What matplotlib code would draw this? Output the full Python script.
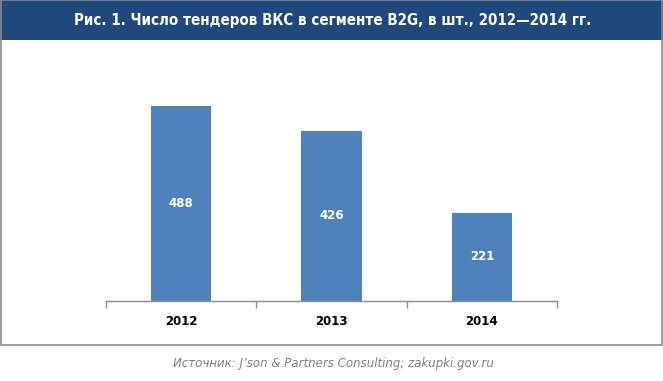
import matplotlib.pyplot as plt
from matplotlib.patches import Rectangle

years = ['2012', '2013', '2014']
tenders = [488, 426, 221]

title = 'Рис. 1. Число тендеров ВКС в сегменте B2G, в шт., 2012\u20142014 гг.'
source = 'Источник: J\u2019son & Partners Consulting; zakupki.gov.ru'

W, H = 663, 381
fig = plt.figure(figsize=(W / 100, H / 100), dpi=100)

# banner and frame
fig.patches.append(Rectangle((0, 1 - 40 / H), 1, 40 / H, transform=fig.transFigure,
                             facecolor='#1f497d', edgecolor='none', zorder=0))
fig.patches.append(Rectangle((0.5 / W, 1 - 345 / H), 1 - 2 / W, 345 / H,
                             transform=fig.transFigure, facecolor='none',
                             edgecolor='#8a8a8a', lw=1.2, zorder=1))
fig.text(333 / W, 1 - 20 / H, title, color='white', fontsize=10.8, fontweight='bold',
         ha='center', va='center', family='DejaVu Sans', fontstretch='condensed')

ax = fig.add_axes([106 / W, (H - 301) / H, (557 - 106) / W, 240 / H])
x = range(len(years))
bars = ax.bar(x, tenders, width=0.4, color='#4f81bd')
for xi, v in zip(x, tenders):
    ax.text(xi, v / 2, str(v), color='white', fontweight='bold', fontsize=8.5,
            ha='center', va='center')

ax.set_xlim(-0.5, 2.5)
ax.set_ylim(0, 600)
ax.set_xticks([-0.5, 0.5, 1.5, 2.5])
ax.set_xticklabels([])
ax.set_xticks(list(x), years, minor=True)
ax.tick_params(axis='x', which='major', length=5, color='#8c8c8c', width=1)
ax.tick_params(axis='x', which='minor', length=0, pad=10, labelsize=8.5)
for lbl in ax.get_xticklabels(minor=True):
    lbl.set_fontweight('bold')
ax.set_yticks([])
for s in ['top', 'right', 'left']:
    ax.spines[s].set_visible(False)
ax.spines['bottom'].set_color('#8c8c8c')
ax.spines['bottom'].set_linewidth(1)

fig.text(333 / W, 1 - 363 / H, source, color='#7f7f7f', fontsize=8.5, style='italic',
         ha='center', va='center')

fig.savefig('out.png', dpi=100)
